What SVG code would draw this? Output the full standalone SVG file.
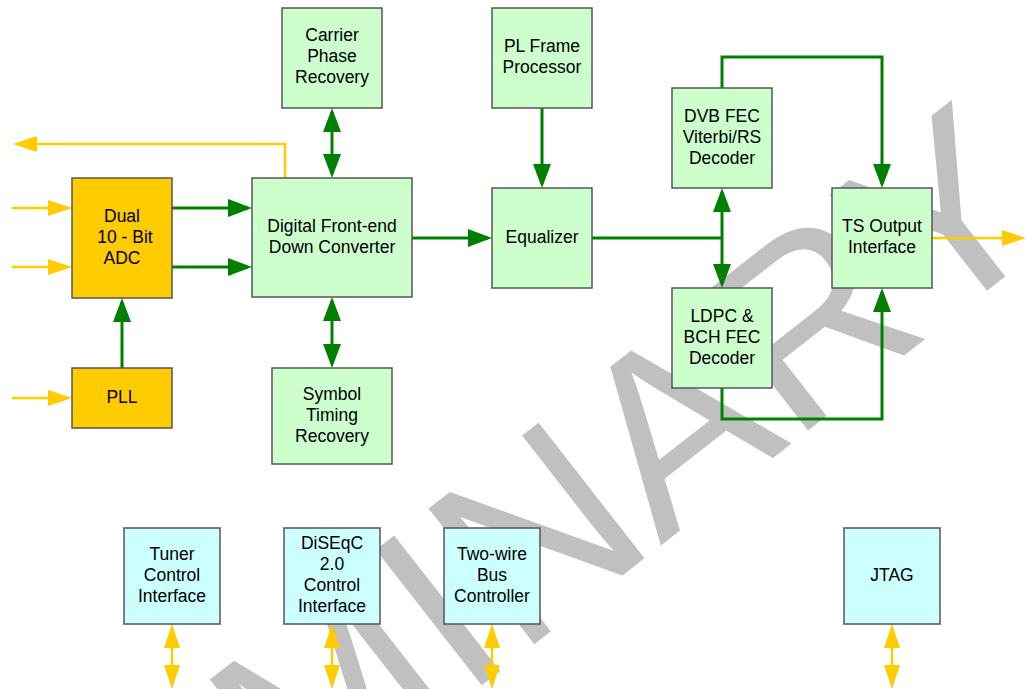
<svg xmlns="http://www.w3.org/2000/svg" width="1026" height="689" viewBox="0 0 1026 689">
<style>
.box{stroke:#555;stroke-width:1.5}
.g{fill:#ccffcc}.c{fill:#ccffff}.o{fill:#ffcc00}
.t{font-family:"Liberation Sans",Arial,sans-serif;font-size:17.5px;fill:#000;text-anchor:middle}
.gl{fill:none;stroke:#008000;stroke-width:3}
.yl{fill:none;stroke:#ffcc00;stroke-width:2.5}
.wm{font-family:"Liberation Sans",Arial,sans-serif;font-size:250px;fill:#c0c0c0}
</style>
<defs>
<marker id="ga" viewBox="0 0 24 18" markerWidth="24" markerHeight="18" refX="20" refY="9" orient="auto-start-reverse" markerUnits="userSpaceOnUse"><path d="M0,0 L24,9 L0,18 z" fill="#008000"/></marker>
<marker id="ya" viewBox="0 0 24 16" markerWidth="24" markerHeight="16" refX="20" refY="8" orient="auto-start-reverse" markerUnits="userSpaceOnUse"><path d="M0,0 L24,8 L0,16 z" fill="#ffcc00"/></marker>
</defs>
<rect width="1026" height="689" fill="#fff"/>
<g id="watermark">
<text class="wm" x="1062" y="232" text-anchor="end" transform="rotate(-38 1062 232)">PRELIMINARY</text>
</g>
<g id="connectors">
<path class="yl" d="M285,178 V144 H17" marker-end="url(#ya)"/>
<path class="yl" d="M12,208 H68" marker-end="url(#ya)"/>
<path class="yl" d="M12,267 H68" marker-end="url(#ya)"/>
<path class="yl" d="M12,398 H68" marker-end="url(#ya)"/>
<path class="yl" d="M932,238 H1022" marker-end="url(#ya)"/>
<path class="yl" d="M172,628 V685" marker-start="url(#ya)" marker-end="url(#ya)"/>
<path class="yl" d="M332,628 V685" marker-start="url(#ya)" marker-end="url(#ya)"/>
<path class="yl" d="M492,628 V685" marker-start="url(#ya)" marker-end="url(#ya)"/>
<path class="yl" d="M892,628 V685" marker-start="url(#ya)" marker-end="url(#ya)"/>
<path class="gl" d="M172,208 H248" marker-end="url(#ga)"/>
<path class="gl" d="M172,267 H248" marker-end="url(#ga)"/>
<path class="gl" d="M122,368 V302" marker-end="url(#ga)"/>
<path class="gl" d="M332,112 V174" marker-start="url(#ga)" marker-end="url(#ga)"/>
<path class="gl" d="M332,301 V364" marker-start="url(#ga)" marker-end="url(#ga)"/>
<path class="gl" d="M412,238 H488" marker-end="url(#ga)"/>
<path class="gl" d="M542,108 V184" marker-end="url(#ga)"/>
<path class="gl" d="M592,238 H722"/>
<path class="gl" d="M722,192 V284" marker-start="url(#ga)" marker-end="url(#ga)"/>
<path class="gl" d="M722,88 V57 H882 V184" marker-end="url(#ga)"/>
<path class="gl" d="M722,388 V419 H882 V292" marker-end="url(#ga)"/>
</g>
<g id="cpr"><rect class="box g" x="282" y="8" width="100" height="100"/><text class="t" x="332" y="41">Carrier</text><text class="t" x="332" y="62">Phase</text><text class="t" x="332" y="83">Recovery</text></g>
<g id="plf"><rect class="box g" x="492" y="8" width="100" height="100"/><text class="t" x="542" y="52">PL Frame</text><text class="t" x="542" y="73">Processor</text></g>
<g id="dvb"><rect class="box g" x="672" y="88" width="100" height="100"/><text class="t" x="722" y="122">DVB FEC</text><text class="t" x="722" y="143">Viterbi/RS</text><text class="t" x="722" y="164">Decoder</text></g>
<g id="adc"><rect class="box o" x="72" y="178" width="100" height="120"/><text class="t" x="122" y="222">Dual</text><text class="t" x="125" y="243">10 - Bit</text><text class="t" x="122" y="264">ADC</text></g>
<g id="dfe"><rect class="box g" x="252" y="178" width="160" height="119"/><text class="t" x="332" y="232">Digital Front-end</text><text class="t" x="332" y="253">Down Converter</text></g>
<g id="eq"><rect class="box g" x="492" y="188" width="100" height="100"/><text class="t" x="542" y="243">Equalizer</text></g>
<g id="ts"><rect class="box g" x="832" y="188" width="100" height="100"/><text class="t" x="882" y="232">TS Output</text><text class="t" x="882" y="253">Interface</text></g>
<g id="ldpc"><rect class="box g" x="672" y="288" width="100" height="100"/><text class="t" x="722" y="322">LDPC &amp;</text><text class="t" x="722" y="343">BCH FEC</text><text class="t" x="722" y="364">Decoder</text></g>
<g id="pll"><rect class="box o" x="72" y="368" width="100" height="60"/><text class="t" x="122" y="403">PLL</text></g>
<g id="str"><rect class="box g" x="272" y="368" width="120" height="96"/><text class="t" x="332" y="400">Symbol</text><text class="t" x="332" y="421">Timing</text><text class="t" x="332" y="442">Recovery</text></g>
<g id="tuner"><rect class="box c" x="124" y="528" width="96" height="96"/><text class="t" x="172" y="560">Tuner</text><text class="t" x="172" y="581">Control</text><text class="t" x="172" y="602">Interface</text></g>
<g id="diseqc"><rect class="box c" x="284" y="528" width="96" height="96"/><text class="t" x="332" y="549">DiSEqC</text><text class="t" x="332" y="570">2.0</text><text class="t" x="332" y="591">Control</text><text class="t" x="332" y="612">Interface</text></g>
<g id="twowire"><rect class="box c" x="444" y="528" width="96" height="96"/><text class="t" x="492" y="560">Two-wire</text><text class="t" x="492" y="581">Bus</text><text class="t" x="492" y="602">Controller</text></g>
<g id="jtag"><rect class="box c" x="844" y="528" width="96" height="96"/><text class="t" x="892" y="581">JTAG</text></g>
</svg>
